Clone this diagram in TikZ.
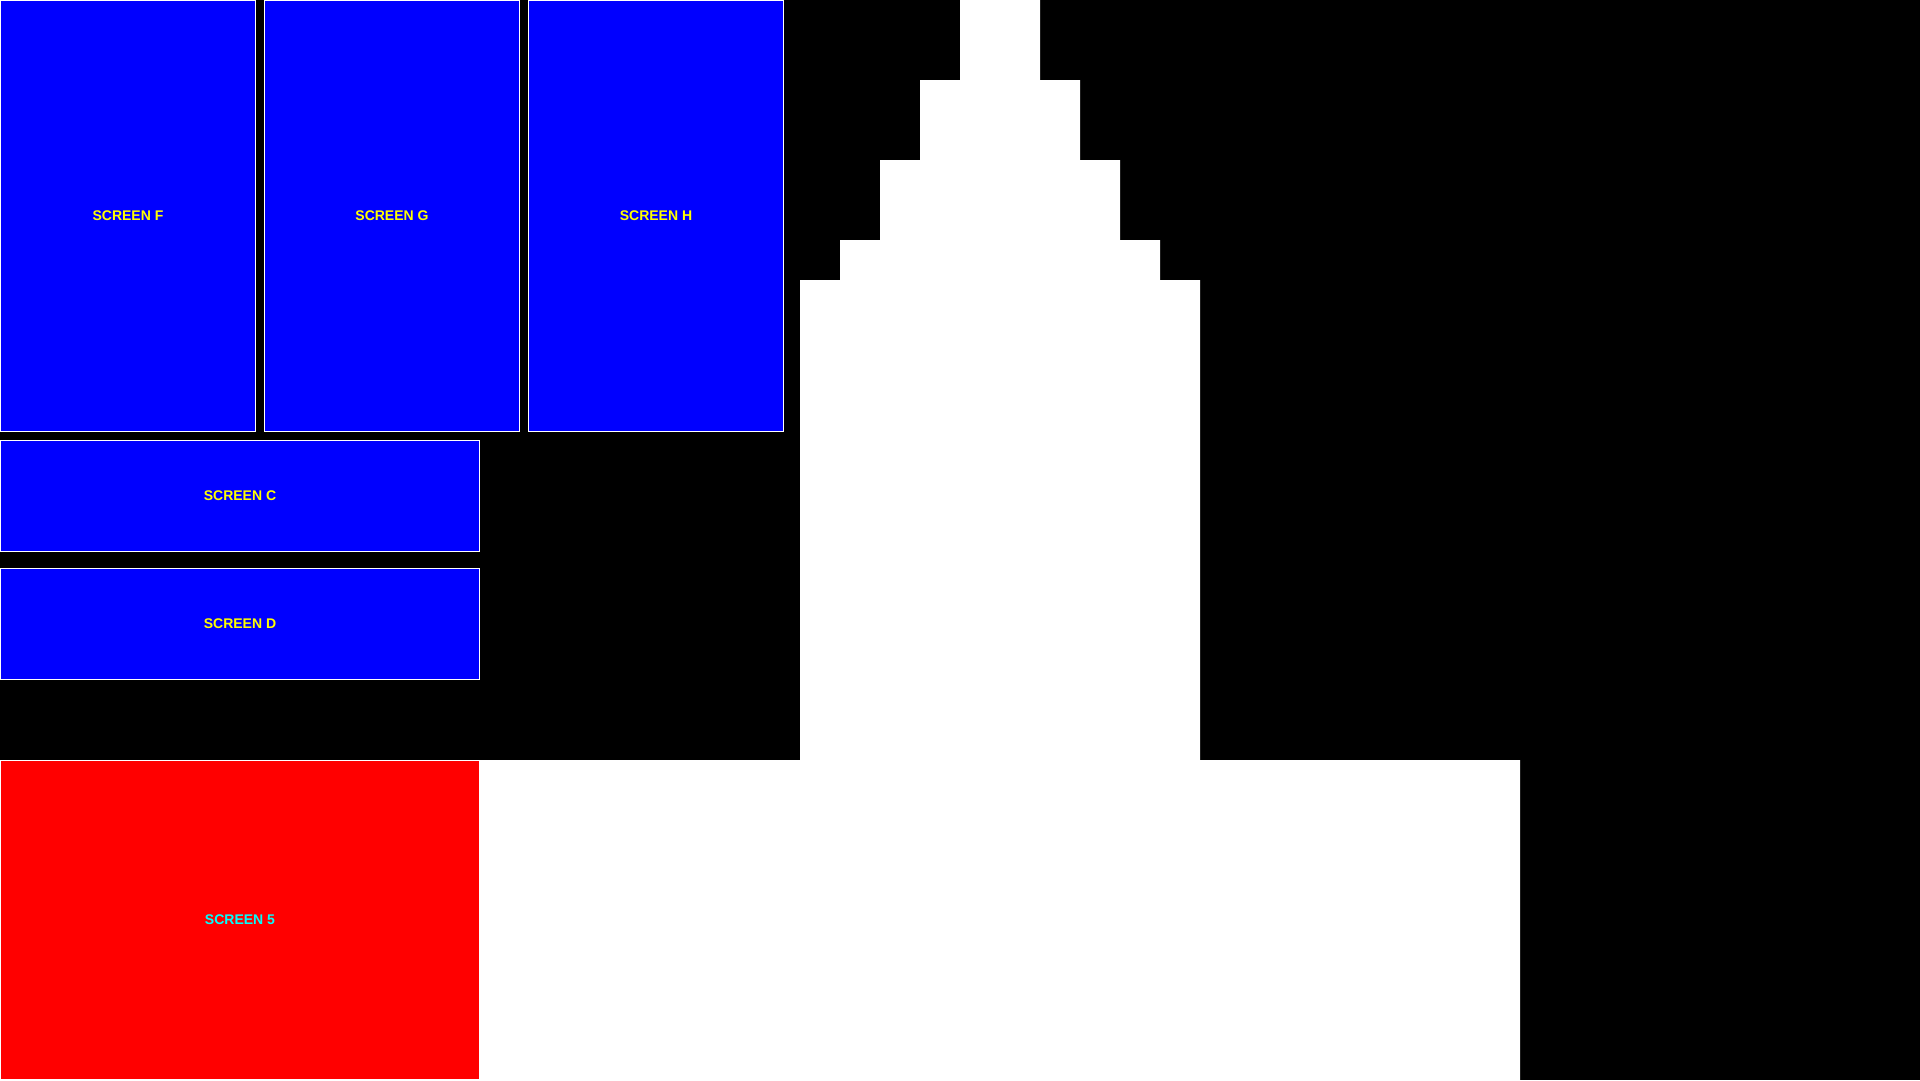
\documentclass[tikz,border=0pt]{standalone}
\usepackage{fontspec}
\setmainfont{Liberation Sans}
\definecolor{scrblue}{RGB}{0,0,255}
\definecolor{scrred}{RGB}{255,0,0}
\definecolor{txtyellow}{RGB}{255,255,0}
\definecolor{txtcyan}{RGB}{0,255,255}
\begin{document}
\begin{tikzpicture}[x=1pt,y=-1pt,
  screen/.style={draw=white, line width=1pt, fill=scrblue, anchor=north west,
    inner sep=0pt, outer sep=0pt, text=txtyellow,
    font=\fontsize{14pt}{14pt}\selectfont\bfseries},
  redscreen/.style={screen, fill=scrred, text=txtcyan}]
\fill[black] (0,0) rectangle (1920,1080);
\useasboundingbox (0,0) rectangle (1920,1080);
% white floor shape with stepped tower
\fill[white] (480,760) -- (800,760) -- (800,280) -- (840,280) -- (840,240)
  -- (880,240) -- (880,160) -- (920,160) -- (920,80) -- (960,80) -- (960,0)
  -- (1040,0) -- (1040,80) -- (1080,80) -- (1080,160) -- (1120,160)
  -- (1120,240) -- (1160,240) -- (1160,280) -- (1200,280) -- (1200,760)
  -- (1520,760) -- (1520,1080) -- (480,1080) -- cycle;
% screens
\node[screen, minimum width=255pt, minimum height=431pt] (F) at (0.5,0.5) {SCREEN F};
\node[screen, minimum width=255pt, minimum height=431pt] (G) at (264.5,0.5) {SCREEN G};
\node[screen, minimum width=255pt, minimum height=431pt] (H) at (528.5,0.5) {SCREEN H};
\node[screen, minimum width=479pt, minimum height=111pt] (C) at (0.5,440.5) {SCREEN C};
\node[screen, minimum width=479pt, minimum height=111pt] (D) at (0.5,568.5) {SCREEN D};
\node[redscreen, minimum width=479pt, minimum height=319pt] (S5) at (0.5,760.5) {SCREEN 5};
\end{tikzpicture}
\end{document}
